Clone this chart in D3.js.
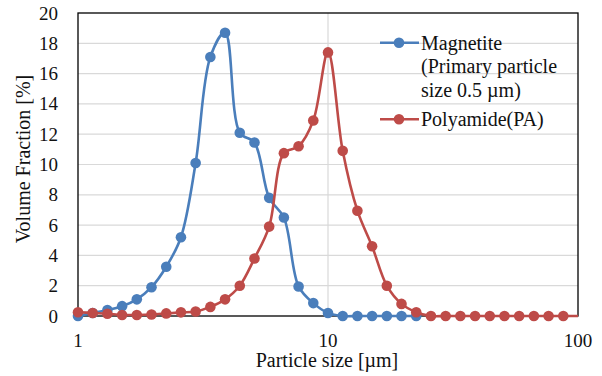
<!DOCTYPE html>
<html>
<head>
<meta charset="utf-8">
<script src="https://cdn.jsdelivr.net/npm/d3@7"></script>
</head>
<body style="margin:0">
<svg id="chart" width="602" height="376"></svg>
<script>
// particle size classes [um]
const sizes = [1, 1.145, 1.311, 1.501, 1.719, 1.968, 2.254, 2.581, 2.955, 3.384,
  3.875, 4.437, 5.08, 5.817, 6.661, 7.627, 8.733, 10, 11.45, 13.11,
  15.01, 17.19, 19.68, 22.54, 25.81, 29.55, 33.84, 38.75, 44.37, 50.8,
  58.17, 66.61, 76.27, 87.33, 100];

// volume fraction [%]
const magnetite = [0, 0.2, 0.4, 0.65, 1.1, 1.9, 3.25, 5.2, 10.1, 17.1,
  18.7, 12.1, 11.45, 7.8, 6.5, 1.95, 0.85, 0.2, 0, 0,
  0, 0, 0, 0];
const polyamide = [0.25, 0.2, 0.15, 0.07, 0.07, 0.1, 0.17, 0.24, 0.3, 0.6,
  1.1, 2.0, 3.8, 5.9, 10.75, 11.2, 12.9, 17.4, 10.9, 6.95,
  4.6, 2.0, 0.8, 0.25, 0, 0, 0, 0, 0, 0,
  0, 0, 0, 0, 0];

const xTicks = [1, 10, 100];
const yTicks = d3.range(0, 21, 2);
const legendLabels = [["Magnetite", "(Primary particle", "size 0.5 \u00b5m)"], ["Polyamide(PA)"]];

const font = "'Liberation Serif'";

const svg = d3.select("#chart");
const plot = {left: 78, right: 578, top: 13, bottom: 316};

const x = d3.scaleLog().domain([1, 100]).range([plot.left, plot.right]);
const y = d3.scaleLinear().domain([0, 20]).range([plot.bottom, plot.top]);

// grid
svg.append("g")
  .selectAll("line")
  .data(yTicks.filter(d => d > 0 && d < 20))
  .join("line")
    .attr("x1", plot.left).attr("x2", plot.right)
    .attr("y1", d => y(d)).attr("y2", d => y(d))
    .attr("stroke", "#d9d9d9").attr("stroke-width", 1.2);

svg.append("line")
  .attr("x1", x(10)).attr("x2", x(10))
  .attr("y1", plot.top).attr("y2", plot.bottom)
  .attr("stroke", "#d9d9d9").attr("stroke-width", 1.2);

svg.append("rect")
  .attr("x", plot.left).attr("y", plot.top)
  .attr("width", plot.right - plot.left).attr("height", plot.bottom - plot.top)
  .attr("fill", "none").attr("stroke", "#000").attr("stroke-width", 1.3);

// tick labels
svg.append("g")
  .selectAll("text")
  .data(yTicks)
  .join("text")
    .attr("x", 58)
    .attr("y", d => y(d) + 6.5)
    .attr("text-anchor", "end")
    .attr("font-size", 19)
    .style("font-family", font)
    .attr("fill", "#111")
    .text(d => d);

svg.append("g")
  .selectAll("text")
  .data(xTicks)
  .join("text")
    .attr("x", d => x(d))
    .attr("y", 347)
    .attr("text-anchor", "middle")
    .attr("font-size", 19)
    .style("font-family", font)
    .attr("fill", "#111")
    .text(d => d);

svg.append("text")
  .attr("x", (plot.left + plot.right) / 2 - 1)
  .attr("y", 367)
  .attr("text-anchor", "middle")
  .attr("font-size", 20)
  .style("font-family", font)
  .attr("fill", "#111")
  .text("Particle size [\u00b5m]");

svg.append("text")
  .attr("transform", "translate(30,159) rotate(-90)")
  .attr("text-anchor", "middle")
  .attr("font-size", 20)
  .style("font-family", font)
  .attr("fill", "#111")
  .text("Volume Fraction [%]");

// series
const series = [
  {values: magnetite, color: "#4a7ebb"},
  {values: polyamide, color: "#be4b48"}
];

const line = d3.line()
  .x(d => x(d.x))
  .y(d => y(d.y))
  .curve(d3.curveCatmullRom.alpha(0.5));

series.forEach(s => {
  const pts = s.values.map((v, i) => ({x: sizes[i], y: v}));
  const g = svg.append("g");
  g.append("path")
    .datum(pts)
    .attr("d", line)
    .attr("fill", "none")
    .attr("stroke", s.color)
    .attr("stroke-width", 2.6);
  g.selectAll("circle")
    .data(pts.filter(d => d.x < 100))
    .join("circle")
      .attr("cx", d => x(d.x))
      .attr("cy", d => y(d.y))
      .attr("r", 5.3)
      .attr("fill", s.color);
});

// legend
const legendY = [42.7, 119.3];
series.forEach((s, i) => {
  const g = svg.append("g");
  g.append("line")
    .attr("x1", 380).attr("x2", 419)
    .attr("y1", legendY[i]).attr("y2", legendY[i])
    .attr("stroke", s.color).attr("stroke-width", 2.6);
  g.append("circle")
    .attr("cx", 399).attr("cy", legendY[i]).attr("r", 5.3)
    .attr("fill", s.color);
  g.selectAll("text")
    .data(legendLabels[i])
    .join("text")
      .attr("x", 421)
      .attr("y", (d, j) => legendY[i] + 6.8 + j * 23.5)
      .attr("font-size", 20)
      .style("font-family", font)
      .attr("fill", "#111")
      .text(d => d);
});
</script>
</body>
</html>
